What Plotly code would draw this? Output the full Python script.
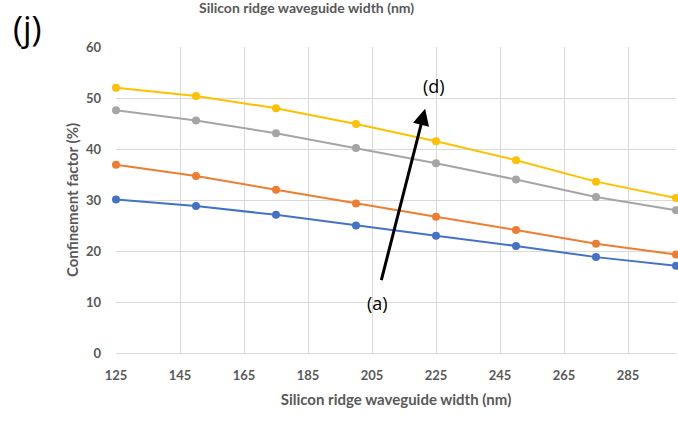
import plotly.graph_objects as go

# Silicon ridge waveguide width (nm)
widths = [125, 150, 175, 200, 225, 250, 275, 300]

# Confinement factor (%) for the four cases, (a) through (d)
case_a = [30.1, 28.8, 27.1, 25.0, 23.0, 21.0, 18.8, 17.1]
case_b = [36.9, 34.7, 32.0, 29.3, 26.7, 24.1, 21.4, 19.3]
case_c = [47.6, 45.6, 43.1, 40.2, 37.2, 34.0, 30.6, 28.0]
case_d = [52.0, 50.4, 48.0, 44.9, 41.5, 37.8, 33.6, 30.4]

series_names = ["(a)", "(b)", "(c)", "(d)"]
series_colors = ["#4472C4", "#ED7D31", "#A5A5A5", "#FFC000"]

x_ticks = [125, 145, 165, 185, 205, 225, 245, 265, 285]
y_ticks = [0, 10, 20, 30, 40, 50, 60]

# Trend arrow from case (a) to case (d), in data units
arrow_tail = (207.8, 14.0)
arrow_head = (221.6, 47.9)

W, H = 678, 423
ML, MR, MT, MB = 116, 2, 47, 70
plot_w = W - ML - MR
plot_h = H - MT - MB


def px_to_paper(px, py):
    return (px - ML) / plot_w, (H - MB - py) / plot_h


fig = go.Figure()
for name, ys, color in zip(series_names, [case_a, case_b, case_c, case_d], series_colors):
    fig.add_trace(go.Scatter(
        x=widths, y=ys, name=name, mode="lines+markers",
        line=dict(color=color, width=2),
        marker=dict(color=color, size=8),
        cliponaxis=False,
    ))

FONT = "Lato, Open Sans, sans-serif"
tick_font = dict(family=FONT, size=13, color="#595959", weight="bold")
title_font = dict(family=FONT, size=15, color="#595959", weight="bold")

fig.add_annotation(
    x=arrow_head[0], y=arrow_head[1], ax=arrow_tail[0], ay=arrow_tail[1],
    xref="x", yref="y", axref="x", ayref="y",
    showarrow=True, arrowhead=2, arrowsize=1.1, arrowwidth=3, arrowcolor="black", text="",
)
fig.add_annotation(x=224.3, y=52.4, xref="x", yref="y", text="(d)", showarrow=False,
                   font=dict(family="Open Sans, sans-serif", size=18, color="black"))
fig.add_annotation(x=206.6, y=9.9, xref="x", yref="y", text="(a)", showarrow=False,
                   font=dict(family="Open Sans, sans-serif", size=18, color="black"))

jx, jy = px_to_paper(27, 28)
fig.add_annotation(x=jx, y=jy, xref="paper", yref="paper", xanchor="center", yanchor="middle",
                   text="(j)", showarrow=False,
                   font=dict(family="Open Sans, sans-serif", size=34, color="black"))

# Heading line along the very top of the figure
hx, hy = px_to_paper(306, 7)
fig.add_annotation(x=hx, y=hy, xref="paper", yref="paper", xanchor="center", yanchor="middle",
                   text="Silicon ridge waveguide width (nm)", showarrow=False,
                   font=dict(family=FONT, size=14, color="#595959", weight="bold"))

fig.update_layout(
    width=W, height=H,
    margin=dict(l=ML, r=MR, t=MT, b=MB),
    paper_bgcolor="white", plot_bgcolor="white",
    showlegend=False,
)
fig.update_xaxes(
    range=[125, 300], tickvals=x_ticks, showgrid=True, gridcolor="#D9D9D9", gridwidth=1,
    zeroline=False, showline=True, linecolor="#D9D9D9", ticks="",
    tickfont=tick_font, ticklabelstandoff=10,
    title=dict(text="Silicon ridge waveguide width (nm)", font=title_font, standoff=12),
)
fig.update_yaxes(
    range=[0, 60], tickvals=y_ticks, showgrid=True, gridcolor="#D9D9D9", gridwidth=1,
    zeroline=False, showline=False, ticks="",
    tickfont=tick_font, ticklabelstandoff=14,
    title=dict(text="Confinement factor (%)", font=title_font, standoff=3),
)

fig.write_html("out.html")
